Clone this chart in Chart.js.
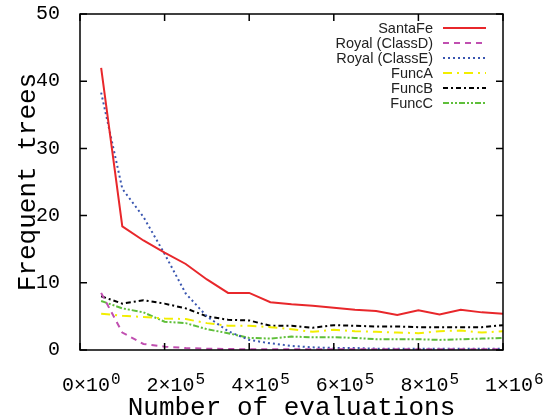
<!DOCTYPE html>
<html lang="en">
<head>
  <meta charset="UTF-8" />
  <title>Frequent trees</title>
  <script src="https://cdn.jsdelivr.net/npm/chart.js@4.4.0/dist/chart.umd.min.js"></script>
  <style>
body { margin: 0; background: #fff; }
#wrap { width: 544px; height: 418px; }
  </style>
</head>
<body>
  <div id="wrap"><canvas id="chart" width="544" height="418"></canvas></div>

  <script>
    // number of evaluations (x)
    const evals = [50000, 100000, 150000, 200000, 250000, 300000, 350000, 400000, 450000, 500000,
                   550000, 600000, 650000, 700000, 750000, 800000, 850000, 900000, 950000, 1000000];

    // frequent trees per problem
    const santaFe = [42, 18.4, 16.3, 14.5, 12.8, 10.5, 8.5, 8.5, 7.1, 6.8, 6.6, 6.3, 6.0, 5.8, 5.2, 5.9, 5.3, 6.0, 5.6, 5.4];
    const royalD  = [8.5, 2.6, 0.9, 0.5, 0.3, 0.2, 0.15, 0.1, 0.1, 0.1, 0.1, 0.1, 0.1, 0.1, 0.1, 0.1, 0.1, 0.1, 0.1, 0.1];
    const royalE  = [38.3, 24, 19.8, 14.3, 8.4, 5.0, 2.8, 1.5, 1.0, 0.6, 0.4, 0.3, 0.3, 0.2, 0.2, 0.2, 0.2, 0.2, 0.2, 0.2];
    const funcA   = [5.4, 5.1, 4.9, 4.7, 4.6, 4.0, 3.6, 3.6, 3.4, 3.1, 2.7, 3.0, 2.8, 2.7, 2.6, 2.5, 2.8, 2.9, 2.6, 2.8];
    const funcB   = [8.0, 6.9, 7.4, 6.9, 6.2, 5.0, 4.5, 4.4, 3.6, 3.6, 3.3, 3.7, 3.6, 3.5, 3.5, 3.4, 3.4, 3.4, 3.4, 3.7];
    const funcC   = [7.3, 6.2, 5.6, 4.2, 4.0, 3.1, 2.5, 1.8, 1.7, 2.0, 1.9, 1.9, 1.8, 1.6, 1.6, 1.6, 1.5, 1.6, 1.7, 1.8];

    // gnuplot-like "m×10^e" tick text, split into base and exponent
    function sciParts(v) {
      if (v === 0) return ['0×10', '0'];
      const e = Math.floor(Math.log10(v) + 1e-9);
      const m = Math.round(v / Math.pow(10, e));
      return [m + '×10', String(e)];
    }

    const pts = arr => arr.map((v, i) => ({x: evals[i], y: v}));

    const series = [
      {label: 'SantaFe',         data: santaFe, color: '#e8272b', dash: []},
      {label: 'Royal (ClassD)',  data: royalD,  color: '#c04fb0', dash: [6, 5]},
      {label: 'Royal (ClassE)',  data: royalE,  color: '#3a56b0', dash: [2, 3]},
      {label: 'FuncA',           data: funcA,   color: '#f2ee00', dash: [9, 5, 2, 5]},
      {label: 'FuncB',           data: funcB,   color: '#000000', dash: [5, 3, 2, 3]},
      {label: 'FuncC',           data: funcC,   color: '#5fbf3a', dash: [6, 2, 2, 2, 2, 2]}
    ];

    const mono = '"Liberation Mono", "Courier New", monospace';

    // frame, inward tick marks, x tick text with superscripts, in-plot legend
    const gnuFrame = {
      id: 'gnuFrame',
      afterDraw(chart) {
        const {ctx, chartArea: a, scales: {x, y}} = chart;
        ctx.save();
        ctx.setLineDash([]);
        ctx.strokeStyle = '#000';
        ctx.lineWidth = 1.5;
        ctx.strokeRect(a.left, a.top, a.right - a.left, a.bottom - a.top);
        ctx.beginPath();
        x.ticks.forEach(t => {
          const px = x.getPixelForValue(t.value);
          ctx.moveTo(px, a.bottom); ctx.lineTo(px, a.bottom - 7);
          ctx.moveTo(px, a.top); ctx.lineTo(px, a.top + 7);
        });
        y.ticks.forEach(t => {
          const py = y.getPixelForValue(t.value);
          ctx.moveTo(a.left, py); ctx.lineTo(a.left + 7, py);
          ctx.moveTo(a.right, py); ctx.lineTo(a.right - 7, py);
        });
        ctx.stroke();

        // x tick labels
        ctx.fillStyle = '#000';
        ctx.textAlign = 'left';
        ctx.textBaseline = 'alphabetic';
        x.ticks.forEach(t => {
          const px = x.getPixelForValue(t.value);
          const [base, ex] = sciParts(t.value);
          ctx.font = '20px ' + mono;
          const x0 = px - 18;
          ctx.fillText(base, x0, a.bottom + 41);
          const w = ctx.measureText(base).width;
          ctx.font = '16px ' + mono;
          ctx.fillText(ex, x0 + w + 1, a.bottom + 34);
        });

        // legend
        ctx.font = '14.5px "Liberation Sans", Arial, sans-serif';
        ctx.textAlign = 'right';
        ctx.textBaseline = 'middle';
        chart.data.datasets.forEach((ds, i) => {
          const yy = a.top + 14 + i * 15;
          ctx.fillStyle = '#222';
          ctx.fillText(ds.label, a.right - 70, yy + 1);
          ctx.strokeStyle = ds.borderColor;
          ctx.lineWidth = 2;
          ctx.setLineDash(ds.borderDash);
          ctx.beginPath();
          ctx.moveTo(a.right - 60, yy);
          ctx.lineTo(a.right - 17, yy);
          ctx.stroke();
        });
        ctx.restore();
      }
    };

    new Chart(document.getElementById('chart'), {
      type: 'line',
      data: {
        datasets: series.map(s => ({
          label: s.label, data: pts(s.data),
          borderColor: s.color, backgroundColor: s.color, borderDash: s.dash,
          borderWidth: 2, pointRadius: 0, tension: 0, fill: false
        }))
      },
      options: {
        responsive: false,
        animation: false,
        layout: { padding: {top: 14, right: 41, left: 0, bottom: 0} },
        plugins: { legend: {display: false}, tooltip: {enabled: false} },
        scales: {
          x: {
            type: 'linear', min: 0, max: 1000000,
            grid: {display: false, drawTicks: false},
            border: {display: false},
            afterFit: s => { s.height = 68; },
            ticks: { stepSize: 200000, display: false },
            title: {
              display: true, text: 'Number of evaluations', color: '#000', padding: 0,
              font: {family: mono, size: 26, lineHeight: 0.75}
            }
          },
          y: {
            min: 0, max: 50,
            grid: {display: false, drawTicks: true, tickLength: 20},
            border: {display: false},
            afterFit: s => { s.width = 80; },
            ticks: {
              stepSize: 10, padding: 0, color: '#000',
              font: {family: mono, size: 20}
            },
            title: {
              display: true, text: 'Frequent trees', color: '#000', padding: {top: 18, bottom: 0},
              font: {family: mono, size: 26, lineHeight: 0.8}
            }
          }
        }
      },
      plugins: [gnuFrame]
    });
  </script>
</body>
</html>
